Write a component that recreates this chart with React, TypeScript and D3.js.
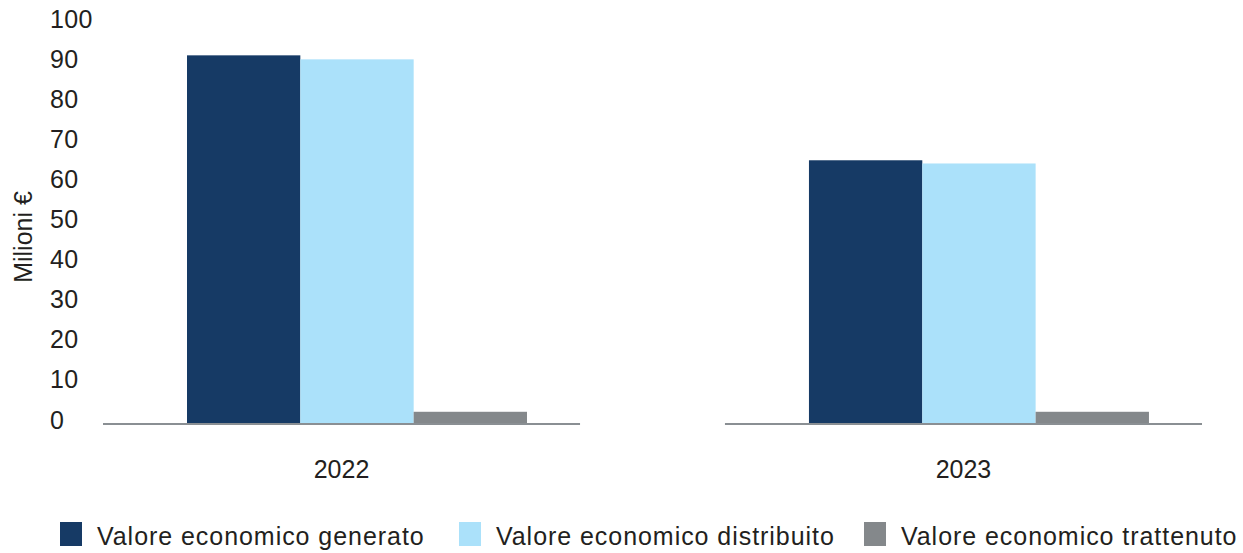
import React from "react";
import * as d3 from "d3";

const categories = ["2022", "2023"];
const seriesNames = [
  "Valore economico generato",
  "Valore economico distribuito",
  "Valore economico trattenuto",
];
const generato = [91.8, 65.6];
const distribuito = [90.8, 64.8];
const trattenuto = [2.8, 2.8];
const yTicks = [0, 10, 20, 30, 40, 50, 60, 70, 80, 90, 100];
const yTitle = "Milioni €";

const colors = ["#163a65", "#abe1fa", "#84888b"];
const FONT = "'Liberation Sans', Arial, Helvetica, sans-serif";
const TEXT = "#231f20";

export default function App() {
  const W = 1243;
  const H = 553;
  const series = [generato, distribuito, trattenuto];

  const y = d3.scaleLinear().domain([0, 100]).range([423, 22.5]);
  const x = d3
    .scaleBand<string>()
    .domain(categories)
    .range([103, 1202])
    .paddingInner(0.233)
    .paddingOuter(0);
  const inner = d3
    .scaleBand<string>()
    .domain(seriesNames)
    .range([84, 424])
    .padding(0);

  const legendX = [60, 459, 864];

  return (
    <svg
      width={W}
      height={H}
      style={{ position: "absolute", left: 0, top: 0, background: "#fff" }}
      fontFamily={FONT}
    >
      {yTicks.map((t) => (
        <text
          key={t}
          x={50}
          y={y(t) - 3.5}
          dominantBaseline="central"
          fontSize={25}
          letterSpacing={0.4}
          fill={TEXT}
        >
          {t}
        </text>
      ))}
      <text
        transform={`translate(32,237) rotate(-90)`}
        textAnchor="middle"
        fontSize={25}
        fill={TEXT}
      >
        {yTitle}
      </text>

      {categories.map((c, ci) => (
        <g key={c}>
          {seriesNames.map((s, si) => {
            const v = series[si][ci];
            return (
              <rect
                key={s}
                x={(x(c) as number) + (inner(s) as number)}
                y={y(v)}
                width={inner.bandwidth()}
                height={y(0) - y(v)}
                fill={colors[si]}
              />
            );
          })}
          <line
            x1={x(c) as number}
            x2={(x(c) as number) + x.bandwidth()}
            y1={424}
            y2={424}
            stroke="#8a8f93"
            strokeWidth={2}
          />
          <text
            x={(x(c) as number) + x.bandwidth() / 2}
            y={478}
            textAnchor="middle"
            fontSize={25}
            fill={TEXT}
          >
            {c}
          </text>
        </g>
      ))}

      {seriesNames.map((s, si) => (
        <g key={s} transform={`translate(${legendX[si]},0)`}>
          <rect x={0} y={522} width={22} height={24} fill={colors[si]} />
          <text x={37} y={545} fontSize={25} letterSpacing={0.95} fill={TEXT}>
            {s}
          </text>
        </g>
      ))}
    </svg>
  );
}
